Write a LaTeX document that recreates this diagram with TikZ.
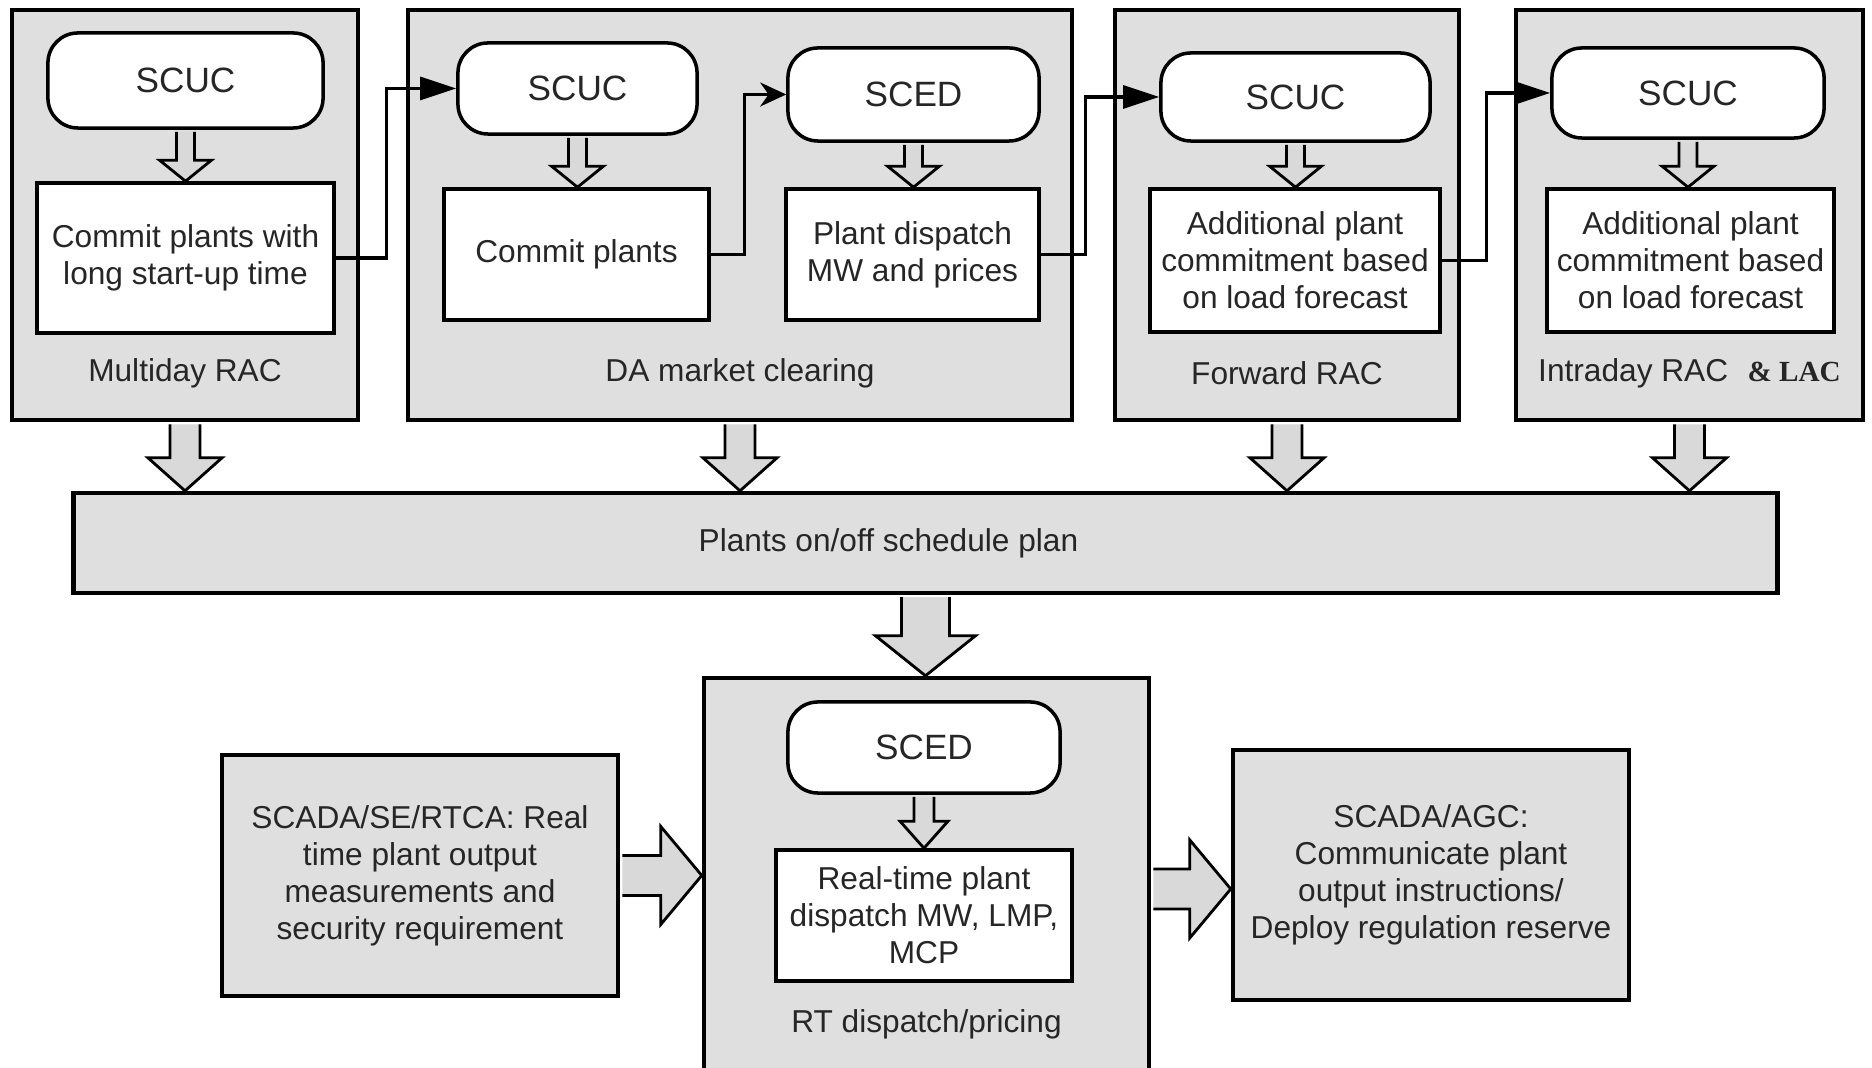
\documentclass[tikz,border=0pt]{standalone}
\usepackage{fontspec}
\setmainfont{Liberation Sans}
\newfontfamily\lacfont{Liberation Serif}
\usetikzlibrary{arrows.meta,calc}

\tikzset{
  stage/.style={draw,line width=1.2pt,fill=gray!25,inner sep=0pt},
  tool/.style={draw,line width=1pt,fill=white,rounded corners=0.3cm,inner sep=0pt,
    font=\fontsize{10}{12}\selectfont},
  result/.style={draw,line width=1pt,fill=white,align=center,inner sep=0pt},
  ttl/.style={anchor=center,inner sep=0pt},
  conn/.style={->,line width=0.9pt},
  blk/.style={draw,line width=0.8pt,fill=gray!30,line join=miter}
}

% hollow block arrows: from, to, shaft half width, head half width, head length
\newcommand{\blkdn}[5]{%
  \draw[blk] let \p1=(#1), \p2=(#2) in
    (\x1-#3,\y1-0.6pt) -- (\x1-#3,\y2+#5) -- (\x1-#4,\y2+#5) -- (\x1,\y2)
    -- (\x1+#4,\y2+#5) -- (\x1+#3,\y2+#5) -- (\x1+#3,\y1-0.6pt);}
\newcommand{\blkrt}[5]{%
  \draw[blk] let \p1=(#1), \p2=(#2) in
    (\x1+0.6pt,\y1+#3) -- (\x2-#5,\y1+#3) -- (\x2-#5,\y1+#4) -- (\x2,\y1)
    -- (\x2-#5,\y1-#4) -- (\x2-#5,\y1-#3) -- (\x1+0.6pt,\y1-#3);}

\begin{document}
\begin{tikzpicture}[x=0.01cm,y=-0.01cm,>={Triangle[length=3.6mm,width=2.3mm]},
    font=\fontsize{9}{10.5}\selectfont,text=black!85]
  \useasboundingbox (0,0) rectangle (1872,1068);

  % multiday
  \node[stage,minimum width=3.46cm,minimum height=4.1cm,
    label={[ttl,yshift=4.9mm]south:Multiday RAC}] (multi) at (185,215) {};
  \node[tool,minimum width=2.75cm,minimum height=0.95cm] (mscuc) at (185.5,80.5) {SCUC};
  \node[result,minimum width=2.97cm,minimum height=1.5cm] (mlong) at (185.5,258)
    {Commit plants with\\long start-up time};

  % day ahead
  \node[stage,minimum width=6.64cm,minimum height=4.1cm,
    label={[ttl,yshift=4.9mm]south:DA market clearing}] (da) at (740,215) {};
  \node[tool,minimum width=2.39cm,minimum height=0.91cm] (dscuc) at (577.5,88.5) {SCUC};
  \node[result,minimum width=2.65cm,minimum height=1.31cm] (dcom) at (576.5,254.5) {Commit plants};
  \node[tool,minimum width=2.51cm,minimum height=0.93cm] (dsced) at (913.5,94.5) {SCED};
  \node[result,minimum width=2.53cm,minimum height=1.31cm] (dpd) at (912.5,254.5)
    {Plant dispatch\\MW and prices};

  % forward
  \node[stage,minimum width=3.44cm,minimum height=4.1cm,
    label={[ttl,yshift=4.9mm]south:Forward RAC}] (fwd) at (1287,215) {};
  \node[tool,minimum width=2.69cm,minimum height=0.88cm] (fscuc) at (1295.5,97) {SCUC};
  \node[result,minimum width=2.9cm,minimum height=1.43cm] (fadd) at (1295,260.5)
    {Additional plant\\commitment based\\on load forecast};

  % intraday
  \node[stage,minimum width=3.47cm,minimum height=4.1cm,
    label={[ttl,yshift=4.9mm]south:Intraday RAC\hspace{5.5pt}{\lacfont\bfseries\fontsize{8.3}{10}\selectfont\& LAC}}] (intra) at (1689.5,215) {};
  \node[tool,minimum width=2.72cm,minimum height=0.9cm] (iscuc) at (1688,93) {SCUC};
  \node[result,minimum width=2.87cm,minimum height=1.43cm] (iadd) at (1690.5,260.5)
    {Additional plant\\commitment based\\on load forecast};

  % schedule plan
  \node[stage,minimum width=17.03cm,minimum height=1cm,
    label={[ttl,xshift=-3.7mm]center:Plants on/off schedule plan}] (plan) at (925.5,543) {};

  % real time
  \node[stage,minimum width=4.45cm,minimum height=4.22cm,
    label={[ttl,yshift=7.8mm]south:RT dispatch/pricing}] (rt) at (926.5,889) {};
  \node[tool,minimum width=2.72cm,minimum height=0.91cm] (rsced) at (924,747.5) {SCED};
  \node[result,minimum width=2.96cm,minimum height=1.31cm] (rres) at (924,915.5)
    {Real-time plant\\dispatch MW, LMP,\\MCP};
  \node[stage,minimum width=3.96cm,minimum height=2.41cm,align=center] (scada) at (420,875.5)
    {SCADA/SE/RTCA: Real\\time plant output\\measurements and\\security requirement};
  \node[stage,minimum width=3.96cm,minimum height=2.5cm,align=center] (agc) at (1431,875)
    {SCADA/AGC:\\Communicate plant\\output instructions/\\Deploy regulation reserve};

  % connectors
  \draw[conn] (mlong.east) -- ++(51,0) |- (dscuc.west);
  \draw[conn,-{Stealth[length=2.6mm,width=2.4mm]}] (dcom.east) -- ++(34,0) |- (dsced.west);
  \draw[conn] (dpd.east) -- ++(45,0) |- (fscuc.west);
  \draw[conn] (fadd.east) -- ++(45,0) |- (iscuc.west);

  % block arrows
  \blkdn{mscuc.south}{mlong.north}{0.09cm}{0.26cm}{0.21cm}
  \blkdn{dscuc.south}{dcom.north}{0.09cm}{0.26cm}{0.21cm}
  \blkdn{dsced.south}{dpd.north}{0.09cm}{0.26cm}{0.21cm}
  \blkdn{fscuc.south}{fadd.north}{0.09cm}{0.26cm}{0.21cm}
  \blkdn{iscuc.south}{iadd.north}{0.09cm}{0.26cm}{0.21cm}
  \blkdn{rsced.south}{rres.north}{0.1cm}{0.24cm}{0.27cm}
  \blkdn{multi.south}{plan.north}{0.15cm}{0.37cm}{0.33cm}
  \blkdn{da.south}{plan.north}{0.15cm}{0.37cm}{0.33cm}
  \blkdn{fwd.south}{plan.north}{0.15cm}{0.37cm}{0.33cm}
  \blkdn{intra.south}{plan.north}{0.15cm}{0.37cm}{0.33cm}
  \blkdn{plan.south}{rt.north}{0.24cm}{0.5cm}{0.4cm}
  \blkrt{scada.east}{rt.west}{0.2cm}{0.49cm}{0.41cm}
  \blkrt{rt.east}{agc.west}{0.2cm}{0.49cm}{0.41cm}
\end{tikzpicture}
\end{document}
